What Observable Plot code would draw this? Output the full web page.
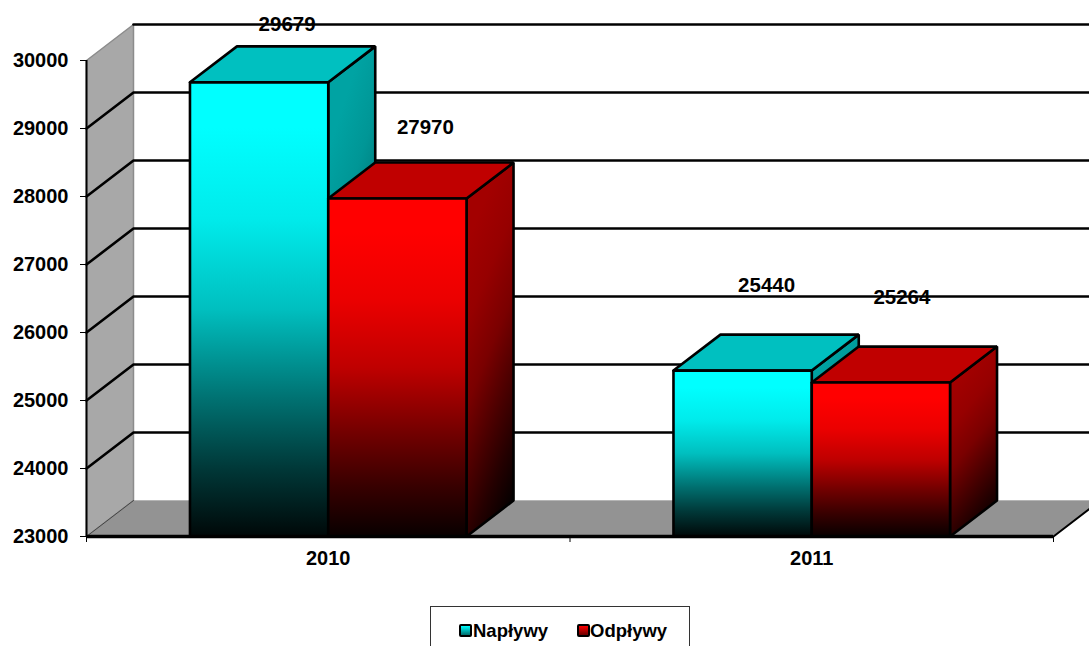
<!DOCTYPE html>
<html>
<head>
<meta charset="utf-8">
<script src="https://cdn.jsdelivr.net/npm/d3@7"></script>
<script src="https://cdn.jsdelivr.net/npm/@observablehq/plot@0.6"></script>
<style>
html,body{margin:0;padding:0;background:#fff;overflow:hidden;width:1089px;height:646px}
body{font-family:"Liberation Sans",Arial,sans-serif;font-weight:700;color:#000}
#chart svg{display:block;background:#fff}
#legend{position:absolute;left:430px;top:606px;width:258px;height:70px;border:1px solid #333;box-sizing:content-box;font-size:18.5px}
#legend span{position:absolute;top:13px;line-height:22px}
#legend i{position:absolute;top:17px;width:9px;height:9px;border:2px solid #000;border-radius:2px}
</style>
</head>
<body>
<div id="chart"></div>
<div id="legend"></div>
<script>
const categories = ["2010", "2011"];
const seriesNames = ["Napływy", "Odpływy"];
const naplywy = [29679, 25440];
const odplywy = [27970, 25264];
const yTicks = [23000, 24000, 25000, 26000, 27000, 28000, 29000, 30000];

const base = 23000;
const depthX = 0.0972, depthY = 529;   // oblique depth of the 3D projection, in scale units
const barW = 0.286;
const xEnd = 2 + depthX;
const FONT = '"Liberation Sans", Arial, sans-serif';

const pts = (arr) => arr.map(([x, y]) => ({x, y}));
const poly = (arr, o) => Plot.line(pts(arr), {x: "x", y: "y", curve: "linear", strokeLinejoin: "miter", ...o});

function prism(x0, x1, v, front, side, top) {
  const edge = {stroke: "#000", strokeWidth: 2.6};
  return [
    poly([[x1, base], [x1 + depthX, base + depthY], [x1 + depthX, v + depthY], [x1, v], [x1, base]], {fill: `url(#${side})`, ...edge}),
    poly([[x0, v], [x0 + depthX, v + depthY], [x1 + depthX, v + depthY], [x1, v], [x0, v]], {fill: top, ...edge}),
    poly([[x0, base], [x0, v], [x1, v], [x1, base], [x0, base]], {fill: `url(#${front})`, ...edge})
  ];
}

function gradients() {
  const svgNS = "http://www.w3.org/2000/svg";
  const defs = document.createElementNS(svgNS, "defs");
  const make = (id, rgb, scale, diag) => {
    const g = document.createElementNS(svgNS, "linearGradient");
    g.id = id;
    g.setAttribute("x1", diag ? "0.35" : "0"); g.setAttribute("y1", "0");
    g.setAttribute("x2", diag ? "0.65" : "0"); g.setAttribute("y2", "1");
    for (const [o, k] of [[0, 1], [0.1, 1], [0.3, 0.92], [0.5, 0.75], [0.7, 0.44], [0.85, 0.22], [1, 0.03]]) {
      const s = document.createElementNS(svgNS, "stop");
      s.setAttribute("offset", o);
      s.setAttribute("stop-color", `rgb(${rgb.map(c => Math.round(c * k * scale)).join(",")})`);
      g.appendChild(s);
    }
    defs.appendChild(g);
  };
  make("cyanFront", [0, 255, 255], 1, false);
  make("redFront", [255, 0, 0], 1, false);
  make("cyanSide", [0, 255, 255], 0.64, true);
  make("redSide", [255, 0, 0], 0.64, true);
  return defs;
}

const gridMarks = yTicks.slice(1).map(v =>
  poly(v === 30000
    ? [[depthX, v + depthY], [xEnd, v + depthY]]
    : [[0, v], [depthX, v + depthY], [xEnd, v + depthY]],
    {stroke: "#000", strokeWidth: 2.6, fill: "none"})
);

const barMarks = categories.flatMap((c, i) => {
  const mid = i + 0.5;
  return [
    ...prism(mid - barW, mid, naplywy[i], "cyanFront", "cyanSide", "#00c0c0"),
    ...prism(mid, mid + barW, odplywy[i], "redFront", "redSide", "#c00000")
  ];
});

const labelStyle = {fontSize: 20.5, fontWeight: 700, fontFamily: FONT, fill: "#000"};
const labelShift = [[28, -58], [28, -71], [24, -85], [21, -85]];
const labelMarks = categories.flatMap((c, i) => [naplywy[i], odplywy[i]].map((v, j) => {
  const [dx, dy] = labelShift[i * 2 + j];
  return Plot.text([{x: i + 0.5 + (j ? barW / 2 : -barW / 2), y: v, t: String(v)}], {
    x: "x", y: "y", text: "t", dx, dy, ...labelStyle
  });
}));

const plot = Plot.plot({
  width: 1089,
  height: 590,
  marginLeft: 86,
  marginRight: 36,
  marginTop: 60,
  marginBottom: 54,
  style: {background: "#fff", fontFamily: FONT, overflow: "hidden"},
  x: {domain: [0, 2]},
  y: {domain: [23000, 30000]},
  marks: [
    gradients,
    // floor
    poly([[0, base], [depthX, base + depthY], [xEnd, base + depthY], [2, base], [0, base]], {fill: "#939393", stroke: "#b5b5b5", strokeWidth: 1}),
    // left wall
    poly([[0, base], [0, 30000], [depthX, 30000 + depthY], [depthX, base + depthY], [0, base]], {fill: "#a8a8a8", stroke: "#8c8c8c", strokeWidth: 1.5}),
    poly([[2, base], [xEnd, base + depthY]], {stroke: "#000", strokeWidth: 2, fill: "none"}),
    poly([[0, base], [depthX, base + depthY]], {stroke: "#444", strokeWidth: 1, fill: "none"}),
    ...gridMarks,
    ...barMarks,
    // axis lines
    Plot.ruleX([0], {y1: 23000, y2: 30000, stroke: "#000", strokeWidth: 2}),
    Plot.ruleY([23000], {x1: 0, x2: 2, stroke: "#000", strokeWidth: 3.5}),
    Plot.axisY({
      ticks: yTicks, tickSize: 6, tickPadding: 12, label: null,
      tickFormat: d => String(d), fontSize: 20, fontWeight: 700, fontFamily: FONT, fill: "#000"
    }),
    Plot.axisX({ticks: [0, 1, 2], tickSize: 6, tickFormat: () => "", label: null}),
    Plot.axisX({
      ticks: categories.map((c, i) => i + 0.5), tickSize: 0, tickPadding: 14, label: null,
      tickFormat: d => categories[Math.floor(d)], fontSize: 20, fontWeight: 700, fontFamily: FONT, fill: "#000"
    }),
    ...labelMarks
  ]
});
document.getElementById("chart").appendChild(plot);

const legend = document.getElementById("legend");
const spots = [[28, 43], [146, 160]];
const bg = ["linear-gradient(#00ffff,#006b6b)", "linear-gradient(#ff0000,#6b0000)"];
seriesNames.forEach((name, i) => {
  const sw = document.createElement("i");
  sw.style.left = spots[i][0] + "px";
  sw.style.background = bg[i];
  legend.appendChild(sw);
  const t = document.createElement("span");
  t.textContent = name;
  t.style.left = spots[i][1] - 1 + "px";
  legend.appendChild(t);
});
</script>
</body>
</html>
